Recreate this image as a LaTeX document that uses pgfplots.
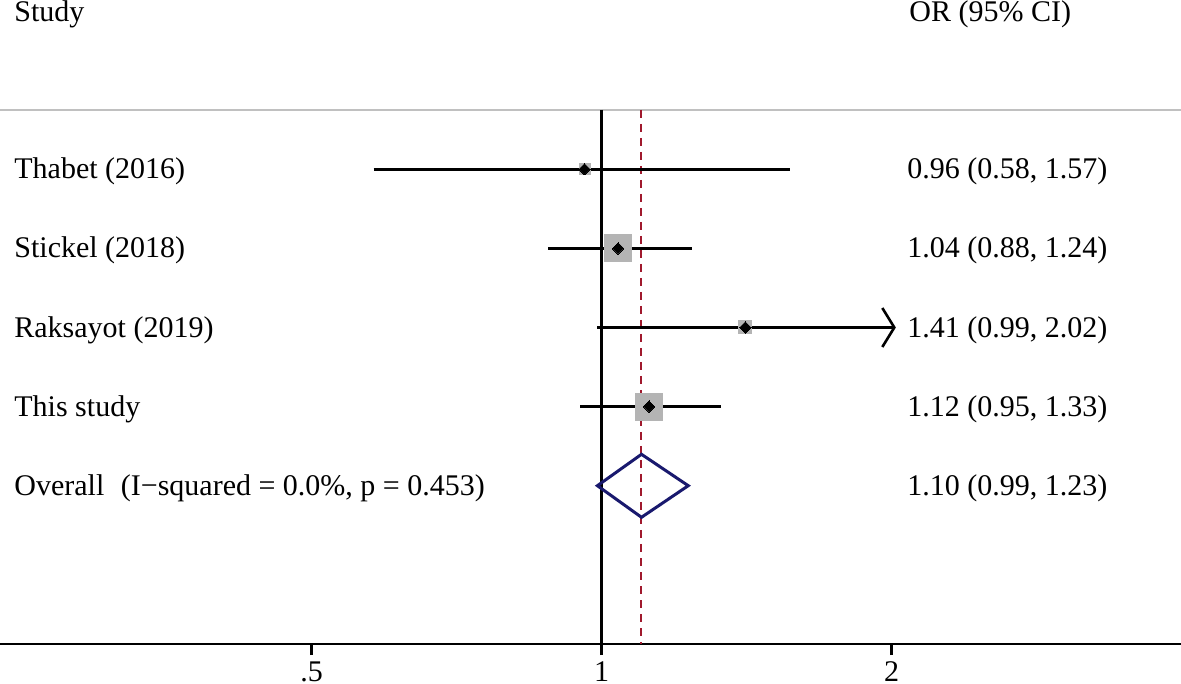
\documentclass[border=0pt]{standalone}
\usepackage{pgfplots}
\pgfplotsset{compat=1.18}
\usepackage{fontspec}
\setmainfont{Liberation Serif}
\usetikzlibrary{arrows.meta}
\definecolor{boxgray}{RGB}{180,180,180}
\definecolor{linegray}{RGB}{192,192,192}
\definecolor{refred}{RGB}{160,25,45}
\definecolor{dnavy}{RGB}{25,25,110}
\begin{document}
\begin{tikzpicture}[lab/.style={anchor=base west, inner sep=0pt, font=\fontsize{15}{18}\selectfont}]
\useasboundingbox (0,-20pt) rectangle (590.5pt,322pt);
\begin{axis}[
  at={(0,0)}, anchor=south west,
  scale only axis, width=590.5pt, height=322pt,
  xmode=log, log basis x=2,
  xmin=0.2375, xmax=3.9934, ymin=0, ymax=644,
  axis y line=none, axis x line*=bottom,
  x axis line style={-, line width=1.2pt},
  xtick={0.5,1,2}, xticklabels={.5,1,2},
  tick align=outside, major tick length=5.5pt,
  tick style={line width=1.2pt, black},
  xticklabel style={anchor=base, yshift=-13pt, inner sep=0pt, font=\fontsize{15}{18}\selectfont},
  clip=false,
]
% header separator
\addplot[linegray, line width=1.2pt] coordinates {(0.2375,534) (3.9934,534)};
% null line
\addplot[black, line width=1.3pt] coordinates {(1,534) (1,0)};
% weight boxes
\addplot[only marks, mark=square*, mark size=2.75pt, mark options={fill=boxgray, draw=boxgray, line width=0pt}] coordinates {(0.96,474.7)};
\addplot[only marks, mark=square*, mark size=6.75pt, mark options={fill=boxgray, draw=boxgray, line width=0pt}] coordinates {(1.04,395.6)};
\addplot[only marks, mark=square*, mark size=3.25pt, mark options={fill=boxgray, draw=boxgray, line width=0pt}] coordinates {(1.41,316.5)};
\addplot[only marks, mark=square*, mark size=6.75pt, mark options={fill=boxgray, draw=boxgray, line width=0pt}] coordinates {(1.12,237.4)};
% overall effect line
\addplot[refred, line width=1pt, dash pattern=on 4pt off 3pt] coordinates {(1.10,534) (1.10,0)};
% confidence intervals
\addplot[black, line width=1.3pt] coordinates {(0.58,474.7) (1.57,474.7)};
\addplot[black, line width=1.3pt] coordinates {(0.88,395.6) (1.24,395.6)};
\addplot[black, line width=1.3pt, -{Straight Barb[length=6pt,width=19.5pt]}] coordinates {(0.99,316.5) (2.02,316.5)};
\addplot[black, line width=1.3pt] coordinates {(0.95,237.4) (1.33,237.4)};
% point estimates
\addplot[only marks, mark=square*, mark size=2pt, mark options={fill=black, draw=black, line width=0pt, rotate=45}] coordinates {(0.96,474.7) (1.04,395.6) (1.41,316.5) (1.12,237.4)};
% overall diamond
\addplot[dnavy, line width=1.5pt, line join=miter] coordinates {(0.99,158.3) (1.10,189.7) (1.23,158.3) (1.10,126.7) (0.99,158.3) (1.10,189.7)};
\end{axis}
\node[lab] at (7pt,311pt) {Study};
\node[lab] at (454.5pt,311pt) {OR (95\% CI)};
\node[lab] at (7pt,232.6pt) {Thabet (2016)};
\node[lab] at (7pt,193pt) {Stickel (2018)};
\node[lab] at (7pt,153.4pt) {Raksayot (2019)};
\node[lab] at (7pt,113.85pt) {This study};
\node[lab] at (7pt,74.3pt) {Overall\hspace{0.55em}(I−squared = 0.0\%, p = 0.453)};
\node[lab] at (453.5pt,232.6pt) {0.96 (0.58, 1.57)};
\node[lab] at (453.5pt,193pt) {1.04 (0.88, 1.24)};
\node[lab] at (453.5pt,153.4pt) {1.41 (0.99, 2.02)};
\node[lab] at (453.5pt,113.85pt) {1.12 (0.95, 1.33)};
\node[lab] at (453.5pt,74.3pt) {1.10 (0.99, 1.23)};
\end{tikzpicture}
\end{document}
